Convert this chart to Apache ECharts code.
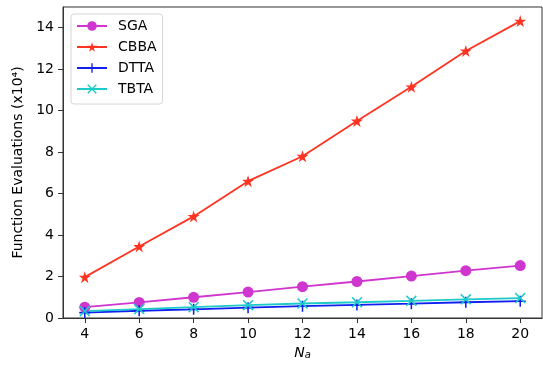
<!DOCTYPE html>
<html>
<head>
<meta charset="utf-8">
<script src="https://cdn.jsdelivr.net/npm/echarts@6/dist/echarts.min.js"></script>
<style>html,body{margin:0;padding:0;background:#fff}#c{width:543px;height:366px}</style>
</head>
<body>
<div id="c"></div>
<script>
const xValues = [4, 6, 8, 10, 12, 14, 16, 18, 20];
const sga  = [0.52, 0.75, 1.0, 1.25, 1.51, 1.76, 2.02, 2.28, 2.53];
const cbba = [1.97, 3.45, 4.9, 6.6, 7.8, 9.5, 11.15, 12.88, 14.32];
const dtta = [0.26, 0.35, 0.42, 0.5, 0.57, 0.63, 0.69, 0.76, 0.81];
const tbta = [0.33, 0.43, 0.52, 0.62, 0.7, 0.76, 0.83, 0.9, 0.96];
const yTicks = [0, 2, 4, 6, 8, 10, 12, 14];
const names = ['SGA', 'CBBA', 'DTTA', 'TBTA'];

const STAR = 'path://M50,0L61.2,34.6L97.6,34.5L68.1,55.9L79.4,90.5L50,69L20.6,90.5L31.9,55.9L2.4,34.5L38.8,34.6Z';
const PLUS = 'path://M4.3,0h1.4v10h-1.4z M0,4.3h10v1.4h-10z';
const CROSS = 'path://M0,1L1,0L5,4L9,0L10,1L6,5L10,9L9,10L5,6L1,10L0,9L4,5Z';

function pairs(vals) { return xValues.map((x, i) => [x, vals[i]]); }
const font = 'DejaVu Sans';
const chart = echarts.init(document.getElementById('c'), null, {renderer: 'canvas'});
function mk(name, vals, color, symbol, size) {
  return {
    name, type: 'line', data: pairs(vals), symbol, symbolSize: size,
    lineStyle: {color, width: 1.8}, itemStyle: {color},
    animation: false, z: 3
  };
}
chart.setOption({
  animation: false,
  textStyle: {fontFamily: font},
  grid: {left: 63, right: 1, top: 7, bottom: 48, show: true, borderColor: '#333', borderWidth: 1, backgroundColor: 'transparent'},
  legend: {
    orient: 'vertical', left: 71, top: 14, data: names,
    itemWidth: 30, itemHeight: 12, itemGap: 7,
    padding: [5, 6, 8, 5],
    borderColor: '#d6d6d6', borderWidth: 1, borderRadius: 3,
    textStyle: {fontFamily: font, fontSize: 14, color: '#000', padding: [0, 0, 0, 6]}
  },
  xAxis: {
    type: 'value', min: 3.2, max: 20.8,
    name: '{i|N}{s|a}', nameLocation: 'middle', nameGap: 25,
    nameTextStyle: {rich: {
      i: {fontFamily: font, fontStyle: 'italic', fontSize: 14, color: '#000'},
      s: {fontFamily: font, fontStyle: 'italic', fontSize: 10, color: '#000', verticalAlign: 'bottom', padding: [6, 0, 0, 0]}
    }},
    axisLine: {show: true, lineStyle: {color: '#333'}},
    axisTick: {show: true, length: 5, customValues: xValues, lineStyle: {color: '#333'}},
    axisLabel: {customValues: xValues, fontFamily: font, fontSize: 14, color: '#000', margin: 9},
    splitLine: {show: false}
  },
  yAxis: {
    type: 'value', min: 0, max: 15,
    name: 'Function Evaluations (x10\u2074)', nameLocation: 'middle', nameGap: 26,
    nameTextStyle: {fontFamily: font, fontSize: 14, color: '#000'},
    axisLine: {show: true, lineStyle: {color: '#333'}},
    axisTick: {show: true, length: 5, customValues: yTicks, lineStyle: {color: '#333'}},
    axisLabel: {customValues: yTicks, fontFamily: font, fontSize: 14, color: '#000', margin: 9},
    splitLine: {show: false}
  },
  series: [
    mk('SGA', sga, '#cf35cf', 'circle', 11),
    mk('CBBA', cbba, '#ff3322', STAR, 12),
    mk('DTTA', dtta, '#0f1ff0', PLUS, 11),
    mk('TBTA', tbta, '#1ccaca', CROSS, 11)
  ]
});
</script>
</body>
</html>
